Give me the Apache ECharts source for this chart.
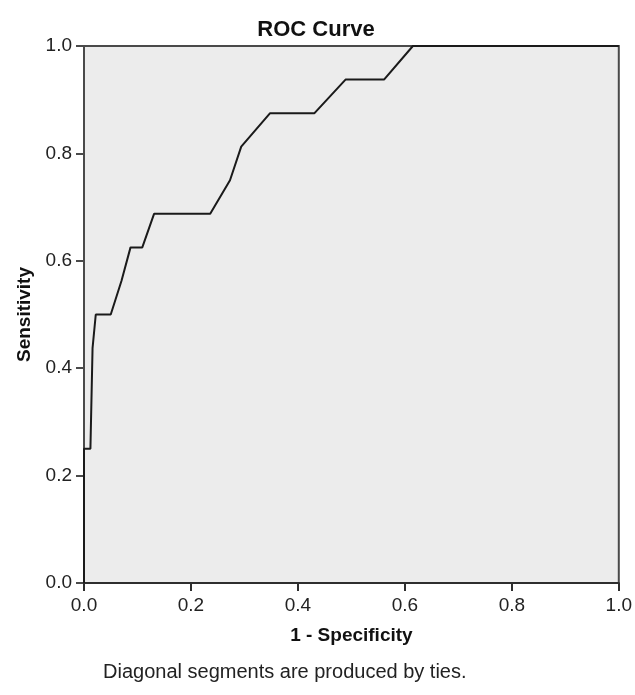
<!DOCTYPE html>
<html>
<head>
<meta charset="utf-8">
<script src="https://cdn.jsdelivr.net/npm/echarts@6/dist/echarts.min.js"></script>
<style>html,body{margin:0;padding:0;background:#fff}#c{width:635px;height:695px}</style>
</head>
<body>
<div id="c"></div>
<script>
var fpr = [0, 0, 0.012, 0.016, 0.022, 0.05, 0.07, 0.087, 0.109, 0.131, 0.236, 0.273, 0.294, 0.348, 0.431, 0.489, 0.561, 0.615, 1.0];
var tpr = [0, 0.25, 0.25, 0.4375, 0.5, 0.5, 0.5625, 0.625, 0.625, 0.6875, 0.6875, 0.75, 0.8125, 0.875, 0.875, 0.9375, 0.9375, 1.0, 1.0];
var ticks = [0, 0.2, 0.4, 0.6, 0.8, 1.0];
var titleText = 'ROC Curve';
var xName = '1 - Specificity';
var yName = 'Sensitivity';
var footnote = 'Diagonal segments are produced by ties.';

var pts = fpr.map(function (x, i) { return [x, tpr[i]]; });
var font = 'Liberation Sans, Arial, sans-serif';
var chart = echarts.init(document.getElementById('c'), null, {renderer: 'canvas'});
function axisCommon(name, gap, rotate, color) {
  return {
    type: 'value', min: ticks[0], max: ticks[ticks.length - 1], interval: 0.2,
    name: name, nameLocation: 'middle', nameGap: gap, nameRotate: rotate,
    nameTextStyle: {fontFamily: font, fontSize: 19, fontWeight: 'bold', color: '#111'},
    axisLine: {show: true, lineStyle: {color: color, width: 2}},
    axisTick: {show: true, length: 8, lineStyle: {color: color, width: 2}},
    axisLabel: {fontFamily: font, fontSize: 19, color: '#222', margin: 12,
      formatter: function (v) { return v.toFixed(1); }},
    splitLine: {show: false}
  };
}
var xa = axisCommon(xName, 43, 0, '#2e2e2e');
xa.axisLabel.margin = 13;
var ya = axisCommon(yName, 49, 90, '#4a4a4a');
chart.setOption({
  animation: false,
  backgroundColor: '#ffffff',
  grid: {left: 84, right: 14, top: 46, bottom: 112, show: true,
    backgroundColor: '#ececec', borderColor: '#4a4a4a', borderWidth: 2},
  xAxis: xa,
  yAxis: ya,
  graphic: [
    {type: 'text', x: 316, y: 30, style: {text: titleText, fontFamily: font, fontSize: 22, fontWeight: 'bold', fill: '#111', textAlign: 'center', textVerticalAlign: 'middle'}},
    {type: 'text', x: 103, y: 672, style: {text: footnote, fontFamily: font, fontSize: 20, fill: '#222', textAlign: 'left', textVerticalAlign: 'middle'}}
  ],
  series: [{
    type: 'line', data: pts, showSymbol: false, symbol: 'none',
    lineStyle: {color: '#1a1a1a', width: 2}, z: 1
  }]
});
</script>
</body>
</html>
